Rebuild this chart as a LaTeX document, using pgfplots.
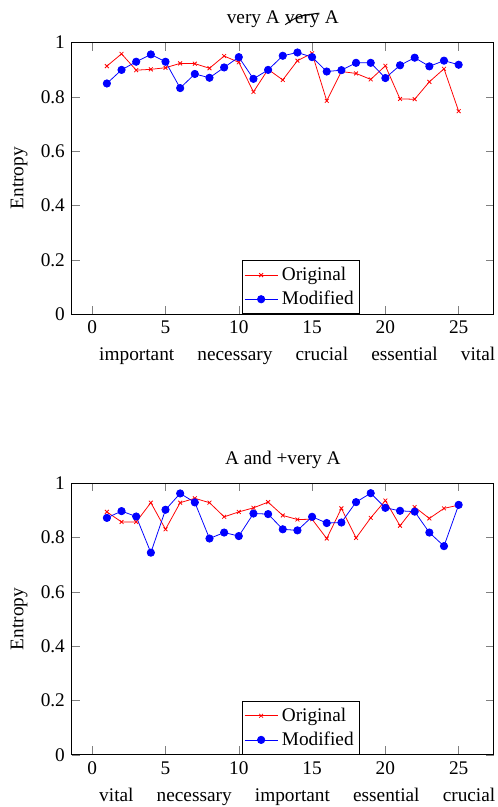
\documentclass[border=0pt]{standalone}
\usepackage{fontspec}
\setmainfont{Liberation Serif}
\usepackage{pgfplots}
\pgfplotsset{compat=1.18}

% "very" with a slanted strike through it
\newcommand{\struck}[1]{\tikz[baseline=(w.base)]{\node[inner sep=0pt,outer sep=0pt](w){#1};
  \draw[line width=0.5pt] ([yshift=-0.1ex]w.base west) .. controls ([xshift=-2pt,yshift=0.9ex]w.base) .. ([yshift=1.2ex]w.base east);}}

\pgfplotsset{
  entax/.style={
    scale only axis, width=218.7pt, height=140.7pt,
    xmin=-1.4, xmax=27.4, ymin=0, ymax=1,
    xtick={0,5,10,15,20,25},
    ytick={0,0.2,0.4,0.6,0.8,1},
    ylabel={Entropy},
    title style={yshift=-2pt},
    xlabel style={xshift=7.5pt},
    legend style={at={(0.543,0)}, anchor=south, draw=black, inner sep=1.2pt},
    legend cell align=left,
    /pgf/number format/assume math mode=true,
  },
  orig/.style={red, mark=x, mark size=1.4pt},
  modi/.style={blue, mark=*, mark size=1.9pt},
}

\begin{document}
\begin{tikzpicture}
\begin{axis}[entax,
    title={very A \struck{very} A},
    xlabel={important\hspace{12pt}necessary\hspace{12pt}crucial\hspace{12pt}essential\hspace{12pt}vital}]
\addplot[orig] coordinates {
(1,0.913)(2,0.958)(3,0.898)(4,0.901)(5,0.907)(6,0.923)(7,0.922)(8,0.905)(9,0.950)(10,0.927)
(11,0.818)(12,0.901)(13,0.862)(14,0.933)(15,0.960)(16,0.785)(17,0.893)(18,0.886)(19,0.864)(20,0.914)
(21,0.792)(22,0.791)(23,0.855)(24,0.903)(25,0.747)
};
\addlegendentry{Original}
\addplot[modi] coordinates {
(1,0.849)(2,0.899)(3,0.929)(4,0.956)(5,0.929)(6,0.832)(7,0.884)(8,0.870)(9,0.908)(10,0.946)
(11,0.866)(12,0.899)(13,0.951)(14,0.963)(15,0.946)(16,0.893)(17,0.898)(18,0.925)(19,0.925)(20,0.869)
(21,0.916)(22,0.944)(23,0.912)(24,0.933)(25,0.918)
};
\addlegendentry{Modified}
\coordinate (tl) at (rel axis cs:0,1);
\end{axis}

\begin{axis}[entax, at={(0,-228.3pt)},
    title={A and +very A},
    xlabel={vital\hspace{12pt}necessary\hspace{12pt}important\hspace{12pt}essential\hspace{12pt}crucial}]
\addplot[orig] coordinates {
(1,0.894)(2,0.857)(3,0.857)(4,0.928)(5,0.830)(6,0.928)(7,0.944)(8,0.928)(9,0.876)(10,0.894)
(11,0.909)(12,0.930)(13,0.881)(14,0.866)(15,0.867)(16,0.796)(17,0.907)(18,0.798)(19,0.872)(20,0.936)
(21,0.843)(22,0.912)(23,0.870)(24,0.907)(25,0.919)
};
\addlegendentry{Original}
\addplot[modi] coordinates {
(1,0.872)(2,0.897)(3,0.877)(4,0.744)(5,0.902)(6,0.962)(7,0.929)(8,0.796)(9,0.818)(10,0.805)
(11,0.888)(12,0.886)(13,0.830)(14,0.826)(15,0.876)(16,0.853)(17,0.855)(18,0.930)(19,0.963)(20,0.909)
(21,0.898)(22,0.895)(23,0.818)(24,0.768)(25,0.920)
};
\addlegendentry{Modified}
\coordinate (br) at (rel axis cs:1,0);
\end{axis}
% page margins as in the original
\pgfresetboundingbox
\path ([xshift=-37.15pt,yshift=22pt]tl) rectangle ([xshift=1.7pt,yshift=-27.1pt]br);
\end{tikzpicture}
\end{document}
